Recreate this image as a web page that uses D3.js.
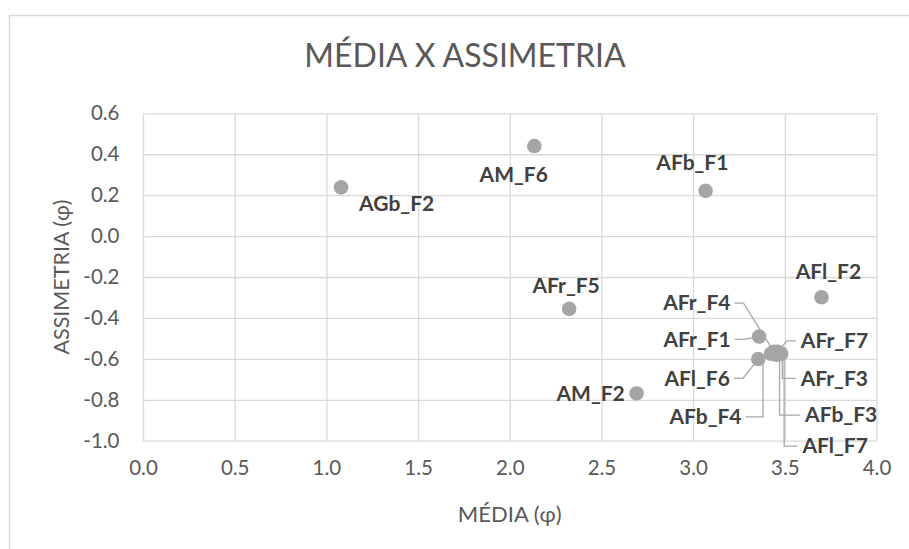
<!DOCTYPE html>
<html><head><meta charset="utf-8">
<script src="https://cdn.jsdelivr.net/npm/d3@7/dist/d3.min.js"></script>
<style>
html,body{margin:0;padding:0;background:#fff;}
svg{display:block;}
</style></head>
<body>
<svg id="chart" width="909" height="549"></svg>
<script>
// ---- DATA ----
const pointNames = ["AGb_F2","AM_F6","AFb_F1","AFr_F5","AFl_F2","AM_F2","AFr_F1","AFl_F6",
  "AFr_F4","AFr_F7","AFr_F3","AFb_F3","AFl_F7","AFb_F4"];
const mediaValues =      [1.08, 2.134, 3.068, 2.324, 3.70, 2.692, 3.36, 3.355, 3.44, 3.46, 3.47, 3.455, 3.48, 3.425];
const assimetriaValues = [0.238, 0.44, 0.221, -0.356, -0.299, -0.769, -0.491, -0.601, -0.565, -0.565, -0.57, -0.58, -0.575, -0.575];
const xTickValues = [0, 0.5, 1.0, 1.5, 2.0, 2.5, 3.0, 3.5, 4.0];
const yTickValues = [-1.0, -0.8, -0.6, -0.4, -0.2, 0.0, 0.2, 0.4, 0.6];
const chartTitle = "MÉDIA X ASSIMETRIA";
const xTitle = "MÉDIA (φ)";
const yTitle = "ASSIMETRIA (φ)";

// ---- LABEL LAYOUT (pixel offsets of label centre from its marker; leader style) ----
const labelDx =   [55.6, -20.6, -13.2, -3, 7, -46, -62, -61, -77, 57, 55, 64.6, 54, -65.6];
const labelDy =   [16, 28.3, -27.8, -22.8, -25.5, 0, 2.8, 19.3, -48.6, -10.9, 25.7, 60.3, 92.4, 63.1];
const leaderOn =  [false,false,false,false,false,false,true,true,true,true,true,true,true,true];
const leaderElbowVertical = [false,false,false,false,false,false,false,false,false,false,true,true,true,true];

// ---- LAYOUT ----
const svg = d3.select("#chart");
const plot = {left: 143, right: 876.5, top: 113.3, bottom: 440.7};
const x = d3.scaleLinear().domain([0, 4]).range([plot.left, plot.right]);
const y = d3.scaleLinear().domain([-1, 0.6]).range([plot.bottom, plot.top]);

const gridColor = "#d9d9d9";
const textGray = "#595959";
const fontFam = "Lato, 'Open Sans', sans-serif";

// chart area border
svg.append("path")
  .attr("d", "M9.5,549 L9.5,15.5 L909,15.5")
  .attr("fill", "none").attr("stroke", gridColor).attr("stroke-width", 1.5);

// gridlines
svg.append("g").attr("transform", `translate(0,${plot.bottom})`)
  .call(d3.axisBottom(x).tickValues(xTickValues).tickSize(-(plot.bottom - plot.top)).tickFormat(""))
  .call(g => g.select(".domain").remove())
  .call(g => g.selectAll("line").attr("stroke", gridColor).attr("stroke-width", 1.3));
svg.append("g").attr("transform", `translate(${plot.left},0)`)
  .call(d3.axisLeft(y).tickValues(yTickValues).tickSize(-(plot.right - plot.left)).tickFormat(""))
  .call(g => g.select(".domain").remove())
  .call(g => g.selectAll("line").attr("stroke", gridColor).attr("stroke-width", 1.3));

// tick labels
svg.append("g").attr("transform", `translate(0,${plot.bottom})`)
  .call(d3.axisBottom(x).tickValues(xTickValues).tickSize(0).tickPadding(20).tickFormat(d => d.toFixed(1)))
  .call(g => g.select(".domain").remove())
  .call(g => g.selectAll("text").attr("fill", textGray).style("font-family", fontFam).style("font-size", "20.5px"));
svg.append("g").attr("transform", `translate(${plot.left},0)`)
  .call(d3.axisLeft(y).tickValues(yTickValues).tickSize(0).tickPadding(23.5).tickFormat(d => d.toFixed(1)))
  .call(g => g.select(".domain").remove())
  .call(g => g.selectAll("text").attr("fill", textGray).style("font-family", fontFam).style("font-size", "20.5px"));

// titles
svg.append("text").attr("x", 465).attr("y", 67).attr("text-anchor", "middle")
  .attr("fill", textGray).style("font-family", fontFam).style("font-size", "32px").text(chartTitle);
svg.append("text").attr("x", (plot.left + plot.right) / 2).attr("y", 522).attr("text-anchor", "middle")
  .attr("fill", textGray).style("font-family", fontFam).style("font-size", "22px").text(xTitle);
svg.append("text").attr("transform", `translate(69,${(plot.top + plot.bottom) / 2}) rotate(-90)`)
  .attr("text-anchor", "middle")
  .attr("fill", textGray).style("font-family", fontFam).style("font-size", "21.5px").text(yTitle);

const pts = pointNames.map((n, i) => ({
  name: n, px: x(mediaValues[i]), py: y(assimetriaValues[i]),
  lx: x(mediaValues[i]) + labelDx[i], ly: y(assimetriaValues[i]) + labelDy[i],
  leader: leaderOn[i], vert: leaderElbowVertical[i]
}));

// labels (drawn first so they can be measured)
const labelG = svg.append("g");
const lbls = labelG.selectAll("text").data(pts).join("text")
  .attr("x", d => d.lx).attr("y", d => d.ly).attr("dy", "0.35em")
  .attr("text-anchor", "middle")
  .attr("fill", "#404040").style("font-family", fontFam).style("font-weight", "bold").style("font-size", "21px")
  .text(d => d.name);

// leader lines
const leaderG = svg.append("g");
lbls.each(function(d) {
  if (!d.leader) return;
  const bb = this.getBBox();
  const leftOfPoint = d.lx < d.px;
  const sx = leftOfPoint ? bb.x + bb.width + 4 : bb.x - 4;
  const sy = d.ly;
  const ex = leftOfPoint ? sx + 9 : sx - 9;
  let path;
  if (d.vert) {
    const vx = leftOfPoint ? Math.max(ex, d.px - 8) : Math.min(ex, d.px + 3);
    path = `M${sx},${sy} L${vx},${sy} L${vx},${d.py + 4} L${d.px},${d.py}`;
  } else {
    path = `M${sx},${sy} L${ex},${sy} L${d.px},${d.py}`;
  }
  leaderG.append("path").attr("d", path).attr("fill", "none")
    .attr("stroke", "#a6a6a6").attr("stroke-width", 1.3);
});

// markers
svg.append("g").selectAll("circle").data(pts).join("circle")
  .attr("cx", d => d.px).attr("cy", d => d.py).attr("r", 7.3)
  .attr("fill", "#a5a5a5");
labelG.raise();
</script>
</body></html>
